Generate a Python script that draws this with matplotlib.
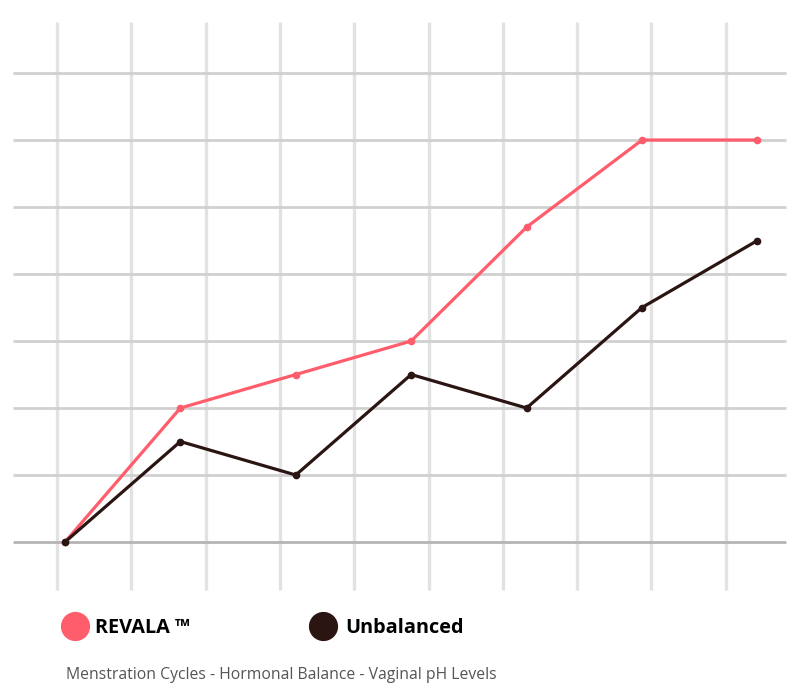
import matplotlib.pyplot as plt
from matplotlib.lines import Line2D

# data
cycles = [0, 1, 2, 3, 4, 5, 6]
revala = [0, 2, 2.5, 3, 4.7, 6, 6]
unbalanced = [0, 1.5, 1, 2.5, 2, 3.5, 4.5]
labels = ["REVALA \u2122", "Unbalanced"]
caption = "Menstration Cycles - Hormonal Balance - Vaginal pH Levels"

pink = "#ff5c6c"
dark = "#2a1512"

fig = plt.figure(figsize=(8, 6.99), dpi=100)
ax = fig.add_axes([0, 0, 1, 1])
ax.set_xlim(-0.563, 6.369)
ax.set_ylim(-2.343, 8.09)
ax.axis("off")

# background grid (independent of data points)
vgrid = [-0.069 + 0.6438 * k for k in range(10)]
hgrid = list(range(1, 8))
ax.vlines(vgrid, -0.716, 7.76, color="#e2e2e2", lw=2.4, zorder=1)
ax.hlines(hgrid, -0.45, 6.248, color="#d0d0d0", lw=2.0, zorder=1)
ax.hlines([0], -0.45, 6.248, color="#b4b4b4", lw=2.0, zorder=1)

ax.plot(cycles, revala, color=pink, lw=2.3, marker="o", ms=4.5, zorder=3)
ax.plot(cycles, unbalanced, color=dark, lw=2.3, marker="o", ms=4.5, zorder=4)

# legend
for x, c, tx, lab in [(0.094, pink, 0.119, labels[0]), (0.404, dark, 0.431, labels[1])]:
    fig.add_artist(Line2D([x], [0.104], marker="o", ms=20, color=c, mec=c,
                          transform=fig.transFigure))
    fig.text(tx, 0.102, lab, fontsize=14.3, fontweight="bold", family="Open Sans",
             color="black", va="center", ha="left")

fig.text(0.083, 0.034, caption, fontsize=11.3, family="Open Sans",
         color="#555555", va="center", ha="left")

fig.savefig("out.png", dpi=100)
